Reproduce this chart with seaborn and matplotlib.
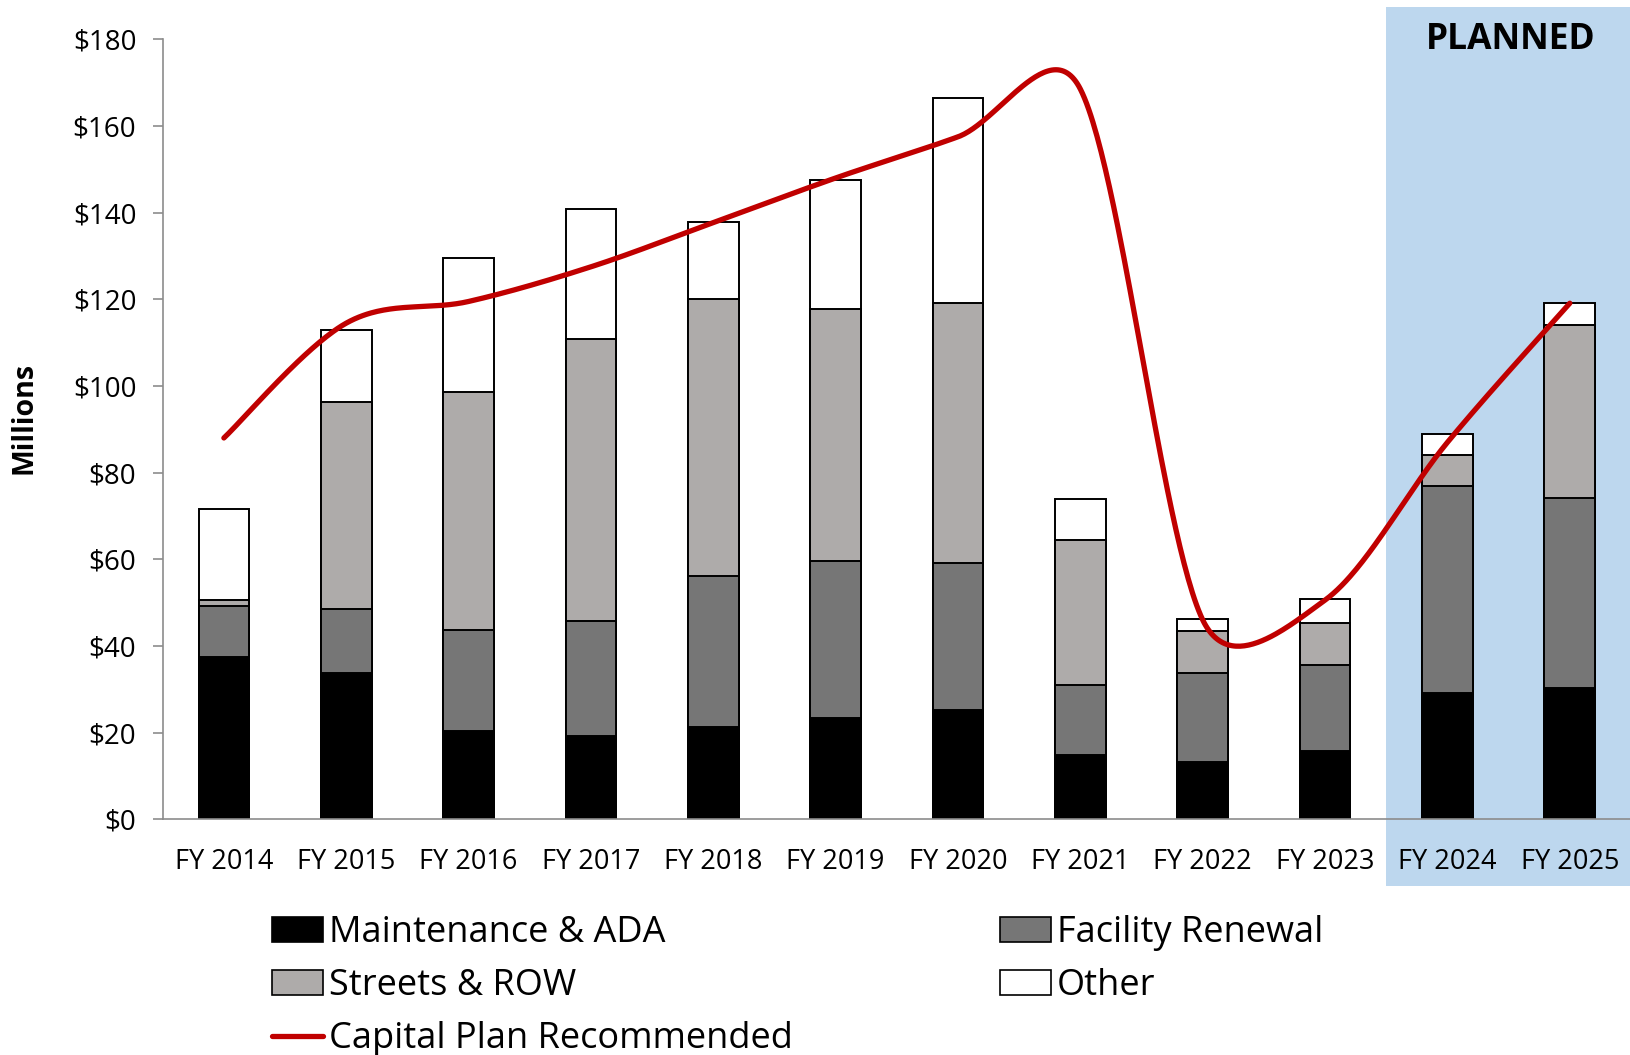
import numpy as np
import pandas as pd
import matplotlib
matplotlib.use("Agg")
import matplotlib.pyplot as plt
import matplotlib.patches as mpatches
from matplotlib.lines import Line2D
import seaborn as sns

years = ["FY 2014", "FY 2015", "FY 2016", "FY 2017", "FY 2018", "FY 2019",
         "FY 2020", "FY 2021", "FY 2022", "FY 2023", "FY 2024", "FY 2025"]

maintenance = [37.5, 33.7, 20.4, 19.2, 21.4, 23.3, 25.3, 14.8, 13.2, 15.8, 29.2, 30.4]
facility = [11.8, 14.8, 23.4, 26.5, 34.7, 36.4, 33.9, 16.1, 20.6, 19.7, 47.8, 43.8]
streets = [1.3, 47.9, 54.7, 65.1, 64.0, 58.0, 59.9, 33.5, 9.7, 9.9, 7.0, 39.9]
other = [21.0, 16.5, 31.1, 30.0, 17.8, 29.8, 47.3, 9.6, 2.7, 5.5, 5.0, 5.0]

capital_plan = [88.0, 114.5, 119.5, 127.5, 137.7, 148.0, 157.5, 168.5, 46.0, 50.6, 87.0, 119.1]

series_names = ["Maintenance & ADA", "Facility Renewal", "Streets & ROW", "Other"]
series_colors = ["#000000", "#767676", "#AEABAA", "#FFFFFF"]
line_color = "#C00000"
planned_color = "#BDD7EE"

FONT = ["Open Sans", "DejaVu Sans"]


def excel_smooth(ys, sx=122.3, sy=4.333, n=60):
    """Bezier smoothing through the points, like a spreadsheet 'smoothed line'."""
    pts = np.column_stack([np.arange(len(ys)) * sx, np.asarray(ys) * sy])
    out = []
    last = len(pts) - 1
    for i in range(last):
        p0, p1 = pts[max(i - 1, 0)], pts[i]
        p2, p3 = pts[i + 1], pts[min(i + 2, last)]
        d12 = np.linalg.norm(p2 - p1)
        d02 = np.linalg.norm(p2 - p0)
        d13 = np.linalg.norm(p3 - p1)
        f = 1 / 6 if d02 / 6 < d12 / 2 else d12 / (2 * d02)
        g = 1 / 6 if d13 / 6 < d12 / 2 else d12 / (2 * d13)
        b1 = p1 + (p2 - p0) * f
        b2 = p2 - (p3 - p1) * g
        t = np.linspace(0, 1, n)[:, None]
        seg = ((1 - t) ** 3) * p1 + 3 * ((1 - t) ** 2) * t * b1 \
            + 3 * (1 - t) * t ** 2 * b2 + t ** 3 * p2
        out.append(seg if i == 0 else seg[1:])
    out = np.vstack(out)
    return out[:, 0] / sx, out[:, 1] / sy


df = pd.DataFrame({"year": years, "maint": maintenance, "fac": facility,
                   "streets": streets, "other": other})
layers = np.cumsum(np.array([maintenance, facility, streets, other]), axis=0)

sns.set_style("white")
plt.rcParams["font.family"] = FONT
plt.rcParams["text.color"] = "black"
plt.rcParams["axes.labelcolor"] = "black"

fig = plt.figure(figsize=(16.31, 10.55), dpi=100)
ax = fig.add_axes([162.7 / 1631, 1 - 819.3 / 1055, 1 - 162.7 / 1631, (819.3 - 39.3) / 1055])
ax.set_facecolor("none")

# planned shading behind the axes
fig.patches.append(mpatches.Rectangle(
    (1386 / 1631, 1 - 886 / 1055), 1 - 1386 / 1631, (886 - 6.7) / 1055,
    transform=fig.transFigure, facecolor=planned_color, edgecolor="none", zorder=-1))

# stacked bars: draw tallest cumulative layer first
for k in range(3, -1, -1):
    sns.barplot(x=df["year"], y=layers[k], color=series_colors[k], width=0.414,
                edgecolor="black", linewidth=1.4, saturation=1, ax=ax, zorder=2)

lx, ly = excel_smooth(capital_plan)
ax.plot(lx, ly, color=line_color, lw=3.8, solid_capstyle="round", zorder=5)

ax.set_xlim(-0.5, 11.5)
ax.set_ylim(0, 180)
ax.set_yticks(np.arange(0, 181, 20))
ax.set_yticklabels([f"${v}" for v in range(0, 181, 20)])
ax.set_xticks(np.arange(12))
ax.set_xticklabels(years)
ax.set_xticks(np.arange(-0.5, 12, 1), minor=True)
ax.set_xlabel("")
ax.set_ylabel("")

ax.tick_params(axis="x", which="major", length=0, pad=21, labelsize=19.5, labelcolor="black")
ax.tick_params(axis="x", which="minor", length=8, width=1.2, color="#8c8c8c", direction="out")
ax.tick_params(axis="y", length=7, width=1.2, color="#8c8c8c", pad=12, labelsize=20,
               labelcolor="black", left=True)
for s in ["top", "right"]:
    ax.spines[s].set_visible(False)
for s in ["left", "bottom"]:
    ax.spines[s].set_color("#8c8c8c")
    ax.spines[s].set_linewidth(1.2)

fig.text(24 / 1631, 1 - 418 / 1055, "Millions", rotation=90, ha="center", va="center",
         fontsize=20.5, fontweight="bold", color="black", family=FONT)
fig.text(1511 / 1631, 1 - 40 / 1055, "PLANNED", ha="center", va="center",
         fontsize=25.5, fontweight="bold", color="black", family=FONT)

# legend, laid out row by row like the original
h = [mpatches.Patch(facecolor=c, edgecolor="black", linewidth=1.2) for c in series_colors]
red = Line2D([], [], color=line_color, lw=3.8)
leg_kw = dict(frameon=False, fontsize=26, handlelength=1.4, handleheight=0.66,
              handletextpad=0.18, labelspacing=0.47, borderpad=0, loc="upper left")
leg1 = fig.legend([h[0], h[2], red], [series_names[0], series_names[2], "Capital Plan Recommended"],
                  bbox_to_anchor=(254 / 1631, 1 - 897 / 1055), **leg_kw)
leg2 = fig.legend([h[1], h[3]], [series_names[1], series_names[3]],
                  bbox_to_anchor=(982 / 1631, 1 - 897 / 1055), **leg_kw)

fig.savefig("out.png", dpi=100)
